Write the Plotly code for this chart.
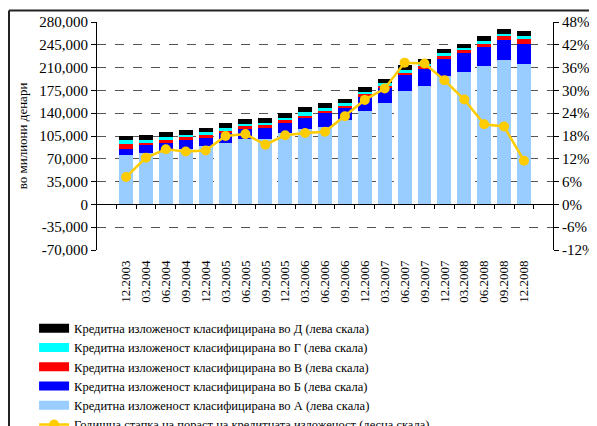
import plotly.graph_objects as go

quarters = ["12.2003", "03.2004", "06.2004", "09.2004", "12.2004", "03.2005", "06.2005",
            "09.2005", "12.2005", "03.2006", "06.2006", "09.2006", "12.2006", "03.2007",
            "06.2007", "09.2007", "12.2007", "03.2008", "06.2008", "09.2008", "12.2008"]

cat_A = [76600, 78600, 82300, 85800, 90400, 94000, 99700, 99700, 109400, 115100, 118200,
         129000, 142800, 155600, 173600, 181400, 196800, 203000, 212200, 221400, 215200]
cat_B = [9200, 12300, 11700, 13100, 12300, 15400, 15400, 17400, 15000, 17000, 21600,
         18500, 21600, 22600, 24700, 26700, 26700, 29800, 29300, 30400, 30400]
cat_V = [6700, 3100, 4200, 4200, 3500, 3500, 5100, 4100, 4600, 3500, 3100,
         3100, 4600, 4100, 4100, 4100, 4100, 4100, 4600, 6600, 8700]
cat_G = [6800, 4100, 5100, 3500, 4600, 4000, 3100, 3500, 3500, 5700, 4600,
         4600, 3500, 4100, 4100, 3500, 5100, 3500, 5100, 3500, 4600]
cat_D = [5000, 8200, 7200, 7200, 7200, 8700, 7200, 7700, 7700, 7700, 8200,
         6200, 7200, 6700, 7200, 7200, 5700, 5100, 7200, 7200, 7200]
growth = [7.2, 12.3, 14.5, 13.9, 14.2, 18.0, 18.5, 15.7, 18.2, 18.8, 19.1,
          23.2, 27.5, 30.5, 37.3, 37.1, 32.7, 27.6, 21.1, 20.5, 11.5]

left_ticks = [-70000, -35000, 0, 35000, 70000, 105000, 140000, 175000, 210000, 245000, 280000]
left_labels = ["-70,000", "-35,000", "0", "35,000", "70,000", "105,000", "140,000",
               "175,000", "210,000", "245,000", "280,000"]
right_ticks = [-12, -6, 0, 6, 12, 18, 24, 30, 36, 42, 48]
right_labels = ["-12%", "-6%", "0%", "6%", "12%", "18%", "24%", "30%", "36%", "42%", "48%"]

names = {
    "D": "Кредитна изложеност класифицирана во Д (лева скала)",
    "G": "Кредитна изложеност класифицирана во Г (лева скала)",
    "V": "Кредитна изложеност класифицирана во В (лева скала)",
    "B": "Кредитна изложеност класифицирана во Б (лева скала)",
    "A": "Кредитна изложеност класифицирана во А (лева скала)",
    "L": "Годишна стапка на пораст на кредитната изложеност (десна скала)",
}
colors = {"A": "#99CCFF", "B": "#0000FF", "V": "#FF0000", "G": "#00FFFF", "D": "#000000"}
FONT = "Liberation Serif"

fig = go.Figure()
for key, vals in [("A", cat_A), ("B", cat_B), ("V", cat_V), ("G", cat_G), ("D", cat_D)]:
    fig.add_trace(go.Bar(x=quarters, y=vals, marker=dict(color=colors[key], line=dict(width=0)),
                         name=names[key], showlegend=False))

rank = {"D": 1, "G": 2, "V": 3, "B": 4, "A": 5}
for key in ["D", "G", "V", "B", "A"]:
    fig.add_trace(go.Scatter(x=[None], y=[None], mode="lines", name=names[key],
                             line=dict(color=colors[key], width=9), legendrank=rank[key]))

fig.add_trace(go.Scatter(x=quarters, y=growth, xaxis="x2", yaxis="y2", mode="lines+markers",
                         name=names["L"], line=dict(color="#FFCC00", width=2.5),
                         marker=dict(color="#FFCC00", size=10), legendrank=6))

# page body has an 8px margin, so the figure is 8px smaller and margins shifted
fig.update_layout(
    width=589, height=418,
    margin=dict(l=89, r=44, t=14, b=176, autoexpand=False),
    paper_bgcolor="white", plot_bgcolor="white",
    barmode="stack", bargap=0.3,
    font=dict(family=FONT, size=14, color="black"),
    showlegend=True,
    legend=dict(x=-0.138, y=-0.279, xanchor="left", yanchor="top", traceorder="normal",
                font=dict(family=FONT, size=12.5), tracegroupgap=0,
                bgcolor="rgba(0,0,0,0)"),
    xaxis=dict(type="category", showline=False, ticks="", tickangle=-90,
               tickfont=dict(family=FONT, size=13), showgrid=False, zeroline=False,
               ticklabelstandoff=7, automargin=False),
    xaxis2=dict(type="category", matches="x", overlaying="x", anchor="free", position=0.2,
                side="bottom", showline=True, linecolor="black", linewidth=1,
                ticks="outside", ticklen=4, tickcolor="black", tickson="boundaries",
                showticklabels=False, showgrid=False, zeroline=False, automargin=False),
    yaxis=dict(range=[-70000, 280000], tickvals=left_ticks, ticktext=left_labels,
               showline=True, linecolor="black", linewidth=1, ticks="outside", ticklen=5,
               tickcolor="black", showgrid=True, gridcolor="#555555", griddash="dash",
               gridwidth=1, zeroline=False, tickfont=dict(family=FONT, size=15),
               automargin=False,
               title=dict(text="во милиони денари", font=dict(family=FONT, size=13),
                          standoff=8)),
    yaxis2=dict(range=[-12, 48], tickvals=right_ticks, ticktext=right_labels,
                overlaying="y", side="right", anchor="x", showline=True, linecolor="black",
                linewidth=1, ticks="outside", ticklen=5, tickcolor="black", showgrid=False,
                zeroline=False, tickfont=dict(family=FONT, size=15), automargin=False),
)

fig.add_shape(type="line", xref="paper", yref="paper", x0=-0.193, x1=1.2, y0=1.05, y1=1.05,
              line=dict(color="#222222", width=2))
fig.add_shape(type="line", xref="paper", yref="paper", x0=-0.193, x1=-0.193, y0=1.05, y1=-1.0,
              line=dict(color="#222222", width=2))

fig.write_html("out.html")
